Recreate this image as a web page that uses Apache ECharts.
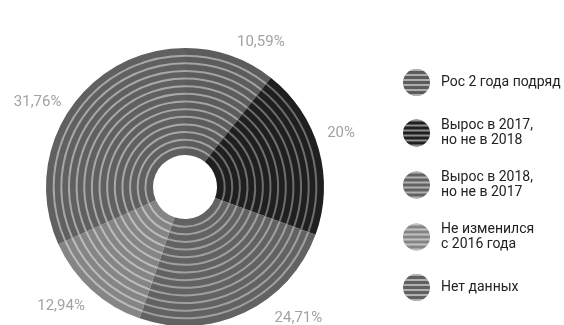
<!DOCTYPE html>
<html>
<head>
<meta charset="utf-8">
<script src="https://cdn.jsdelivr.net/npm/echarts@6/dist/echarts.min.js"></script>
<style>html,body{margin:0;padding:0;background:#fff;}#c{width:564px;height:325px;}</style>
</head>
<body>
<div id="c"></div>
<script>
// ---- data ----
var categories = ['Рос 2 года подряд', 'Вырос в 2017,\nно не в 2018', 'Вырос в 2018,\nно не в 2017', 'Не изменился\nс 2016 года', 'Нет данных'];
var shares = [10.59, 20, 24.71, 12.94, 31.76];

// ---- styles ----
var darkColors = ['#5c5c5c', '#1f1f1f', '#626262', '#858585', '#606060'];
var lightColors = ['#a3a3a3', '#6e6e6e', '#a0a0a0', '#bcbcbc', '#a8a8a8'];
var labelOffsets = [[2, 0], [-5, -12], [24, -7], [3, 6], [5, -2]];
var center = [185, 187];
var rInner = 32, rOuter = 139, ringCount = 14, lineW = 2;

var stripeDecal = {
  symbol: 'rect', symbolSize: 1, dashArrayX: [[1, 0]], dashArrayY: [2, 2.5],
  rotation: 0, color: 'rgba(255,255,255,0.5)'
};

function items(colors, withDecal, withLabel) {
  return categories.map(function (n, i) {
    var it = { name: n, value: shares[i], itemStyle: { color: colors[i] } };
    if (withDecal) it.itemStyle.decal = stripeDecal;
    if (withLabel) it.label = { offset: labelOffsets[i] };
    return it;
  });
}

var series = [];
// legend carrier (striped legend icons)
series.push({
  type: 'pie', center: center, radius: [0, 0], silent: true,
  label: { show: false }, labelLine: { show: false },
  data: items(darkColors, true, false), animation: false
});
// main donut
series.push({
  type: 'pie', center: center, radius: [rInner, rOuter], startAngle: 90,
  avoidLabelOverlap: false, silent: true, animation: false,
  label: {
    show: true, position: 'outside', color: '#a2a2a2', fontSize: 15,
    fontFamily: 'Roboto', distanceToLabelLine: 0,
    formatter: function (p) { return String(p.value).replace('.', ',') + '%'; }
  },
  labelLine: { show: false, length: 14, length2: 0 },
  itemStyle: { borderWidth: 0 },
  data: items(darkColors, false, true)
});
// concentric light stripes
var pitch = (rOuter - rInner) / ringCount;
for (var k = 1; k < ringCount; k++) {
  var rc = rInner + k * pitch;
  series.push({
    type: 'pie', center: center, radius: [rc - lineW / 2, rc + lineW / 2], startAngle: 90,
    silent: true, animation: false, label: { show: false }, labelLine: { show: false },
    itemStyle: { borderWidth: 0 }, emphasis: { disabled: true },
    data: items(lightColors, false, false)
  });
}

var chart = echarts.init(document.getElementById('c'), null, { renderer: 'canvas' });
chart.setOption({
  backgroundColor: '#ffffff',
  animation: false,
  legend: {
    orient: 'vertical', left: 398, top: 64, itemWidth: 27, itemHeight: 27, itemGap: 22,
    icon: 'circle', selectedMode: false, data: categories,
    textStyle: { color: '#222222', fontSize: 14, fontFamily: 'Roboto', lineHeight: 15, padding: [0, 0, 0, 6] }
  },
  series: series
});
</script>
</body>
</html>
